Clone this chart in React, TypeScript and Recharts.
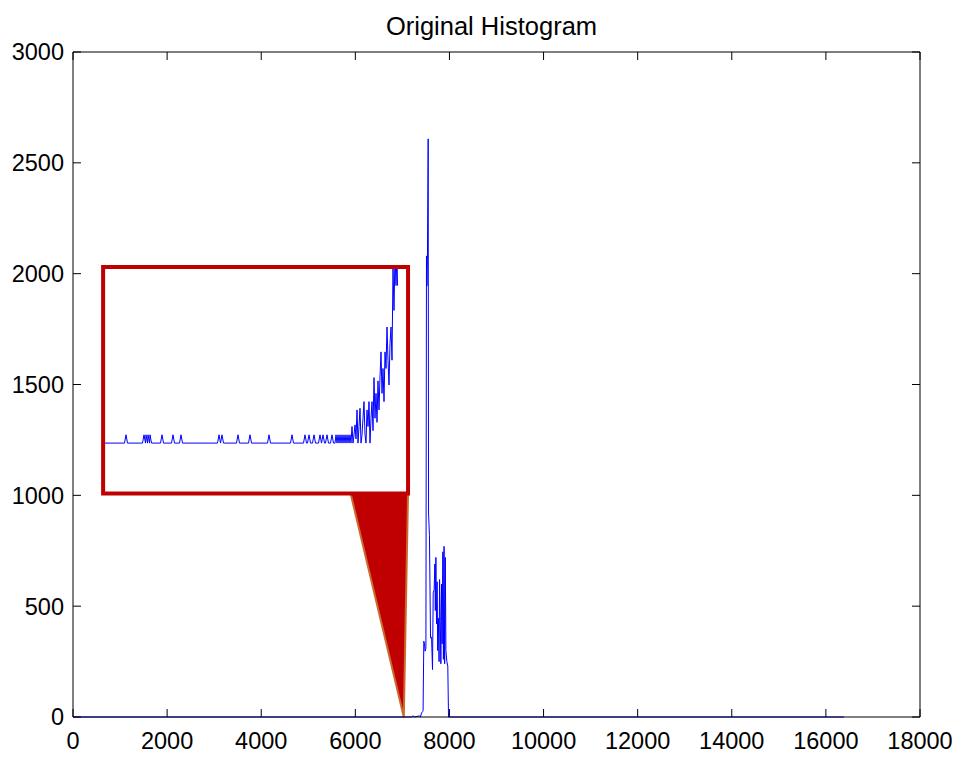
import { LineChart, Line, XAxis, YAxis, ReferenceArea, ReferenceLine } from 'recharts'

const xTicks = [0, 2000, 4000, 6000, 8000, 10000, 12000, 14000, 16000, 18000]
const yTicks = [0, 500, 1000, 1500, 2000, 2500, 3000]

// intensity bin -> pixel count (only the populated part, rest is 0)
const binValues = [
  0, 7200, 7230, 7250, 7360, 7385, 7405, 7430, 7440, 7455, 7470, 7482, 7500,
  7512, 7522, 7532, 7548, 7556, 7575, 7598, 7620, 7640, 7655, 7675, 7690,
  7700, 7712, 7725, 7738, 7750, 7765, 7780, 7790, 7805, 7818, 7832, 7845,
  7860, 7872, 7885, 7898, 7912, 7925, 7945, 7965, 7980, 16383,
]
const binCounts = [
  0, 0, 6, 0, 5, 0, 18, 24, 28, 342, 330, 297, 310,
  2080, 1945, 2060, 2608, 920, 820, 357, 360, 214, 560, 575, 690,
  480, 720, 420, 610, 300, 445, 250, 620, 430, 240, 600, 330,
  745, 260, 770, 240, 720, 300, 250, 230, 0, 0,
]

// zoomed inset: [inset bin, count]
const insetPoints = [
  [0, 0], [19.5, 0], [21, 1], [22.5, 0],
  [37.5, 0], [39, 1], [40.5, 0], [41, 1], [42.5, 0], [43, 1], [44.5, 0], [45, 1], [46.5, 0],
  [55.5, 0], [57, 1], [58.5, 0],
  [66.5, 0], [68, 1], [69.5, 0],
  [74.5, 0], [76, 1], [77.5, 0],
  [112.5, 0], [114, 1], [115.5, 0], [117, 1], [118.5, 0],
  [131.5, 0], [133, 1], [134.5, 0],
  [143.5, 0], [145, 1], [146.5, 0],
  [162.5, 0], [164, 1], [165.5, 0],
  [185.5, 0], [187, 1], [188.5, 0],
  [198.5, 0], [200, 1], [201.5, 0],
  [202.5, 0], [204, 1], [205.5, 0],
  [207.5, 0], [209, 1], [210.5, 0],
  [213.5, 0], [215, 1], [216.5, 0], [218, 1], [219.5, 0],
  [220.5, 0], [222, 1], [223.5, 0],
  [225.5, 0], [227, 1], [228.5, 0],
  [230, 0], [231, 1], [232, 0], [233, 1], [234, 0], [235, 1], [236, 0], [237, 1],
  [238, 0], [239, 1], [240, 0], [241, 1], [242, 0], [243, 1], [244, 0], [245, 1], [246, 0],
  [247, 2], [248, 0], [249, 1], [250, 2.2], [251, 0.5], [252, 4], [253, 0], [254, 2],
  [255, 4.2], [256, 0], [257, 1], [258, 3], [259, 5], [260, 1], [261, 0], [262, 4],
  [263, 2], [264, 5], [265, 0], [266, 3], [267, 5], [268, 1.5], [269, 7.9], [270, 3],
  [271, 6], [272, 2.5], [273, 7.5], [274, 4], [275, 8], [276, 11], [277, 6], [278, 9],
  [279, 5], [280, 11], [281, 9], [282, 14], [283, 10], [284, 7], [285, 12], [286, 14],
  [287, 10], [288, 21], [289, 16], [290, 23], [291, 19], [292, 23], [292.5, 19],
]

// callout box + pointer, in main chart units
const boxX = [640, 7120]
const boxY = [1008, 2030]
const pointerX = [5900, 7120]
const pointerTip = 7030

const histogram = binValues.map((bin, i) => ({ bin, count: binCounts[i] }))
const insetData = insetPoints.map(([bin, count]) => ({ bin, count }))

const font = 'Liberation Sans, Arial, sans-serif'
const X_MAX = 18000
const Y_MAX = 3000
// inward tick length (~8px) expressed in axis units
const xTickLen = 36
const yTickLen = 170

const BottomTick = (props: any) => {
  const { x, y, payload } = props
  return (
    <text
      x={x}
      y={y}
      dy="0.71em"
      textAnchor="middle"
      fill="#000"
      fontSize={23.5}
      fontFamily={font}
    >
      {payload.value}
    </text>
  )
}

const LeftTick = (props: any) => {
  const { x, y, payload } = props
  return (
    <text
      x={x}
      y={y}
      dy="0.355em"
      textAnchor="end"
      fill="#000"
      fontSize={23.5}
      fontFamily={font}
    >
      {payload.value}
    </text>
  )
}

const Pointer = (props: any) => {
  const { x, y, width, height } = props
  const tipX =
    x + (width * (pointerTip - pointerX[0])) / (pointerX[1] - pointerX[0])
  return (
    <polygon
      points={`${x},${y} ${x + width},${y} ${tipX},${y + height}`}
      fill="#c00000"
      stroke="#cc6a2e"
      strokeWidth={2}
    />
  )
}

export default function App() {
  return (
    <div
      style={{
        position: 'absolute',
        left: 0,
        top: 0,
        width: 965,
        height: 758,
        background: '#fff',
      }}
    >
      <div
        style={{
          position: 'absolute',
          left: 68,
          top: 12,
          width: 847,
          textAlign: 'center',
          fontFamily: font,
          fontSize: 25.5,
          lineHeight: '28px',
          color: '#000',
        }}
      >
        Original Histogram
      </div>

      <LineChart
        width={965}
        height={758}
        data={histogram}
        margin={{ top: 0, right: 0, bottom: 0, left: 0 }}
      >
        <XAxis
          dataKey="bin"
          type="number"
          domain={[0, X_MAX]}
          ticks={xTicks}
          height={41}
          stroke="#000"
          tickLine={false}
          tickSize={0}
          tickMargin={15}
          tick={BottomTick}
        />
        <XAxis
          xAxisId="top"
          orientation="top"
          type="number"
          domain={[0, X_MAX]}
          height={52}
          stroke="#000"
          tick={false}
          tickLine={false}
        />
        <YAxis
          type="number"
          domain={[0, Y_MAX]}
          ticks={yTicks}
          width={73}
          stroke="#000"
          tickLine={false}
          tickSize={0}
          tickMargin={9}
          tick={LeftTick}
        />
        <YAxis
          yAxisId="right"
          orientation="right"
          type="number"
          domain={[0, Y_MAX]}
          width={45}
          stroke="#000"
          tick={false}
          tickLine={false}
        />
        {xTicks.map((t) => (
          <ReferenceLine
            key={`xb${t}`}
            segment={[{ x: t, y: 0 }, { x: t, y: xTickLen }]}
            stroke="#000"
          />
        ))}
        {xTicks.map((t) => (
          <ReferenceLine
            key={`xt${t}`}
            segment={[{ x: t, y: Y_MAX }, { x: t, y: Y_MAX - xTickLen }]}
            stroke="#000"
          />
        ))}
        {yTicks.map((t) => (
          <ReferenceLine
            key={`yl${t}`}
            segment={[{ x: 0, y: t }, { x: yTickLen, y: t }]}
            stroke="#000"
          />
        ))}
        {yTicks.map((t) => (
          <ReferenceLine
            key={`yr${t}`}
            segment={[{ x: X_MAX, y: t }, { x: X_MAX - yTickLen, y: t }]}
            stroke="#000"
          />
        ))}
        <ReferenceArea
          x1={pointerX[0]}
          x2={pointerX[1]}
          y1={0}
          y2={boxY[0]}
          shape={Pointer}
        />
        <ReferenceArea
          x1={boxX[0]}
          x2={boxX[1]}
          y1={boxY[0]}
          y2={boxY[1]}
          fill="#fff"
          fillOpacity={1}
          stroke="#c00000"
          strokeWidth={4}
        />
        <Line
          dataKey="count"
          type="linear"
          stroke="#0000ff"
          strokeWidth={1}
          dot={false}
          activeDot={false}
          isAnimationActive={false}
        />
      </LineChart>

      <div style={{ position: 'absolute', left: 105, top: 269, width: 301, height: 223 }}>
        <LineChart
          width={301}
          height={223}
          data={insetData}
          margin={{ top: 0, right: 0, bottom: 0, left: 0 }}
        >
          <XAxis dataKey="bin" type="number" domain={[0, 301]} hide />
          <YAxis type="number" domain={[-5.9, 21]} allowDataOverflow hide />
          <Line
            dataKey="count"
            type="linear"
            stroke="#0000ff"
            strokeWidth={1}
            dot={false}
            activeDot={false}
            isAnimationActive={false}
          />
        </LineChart>
      </div>
    </div>
  )
}
